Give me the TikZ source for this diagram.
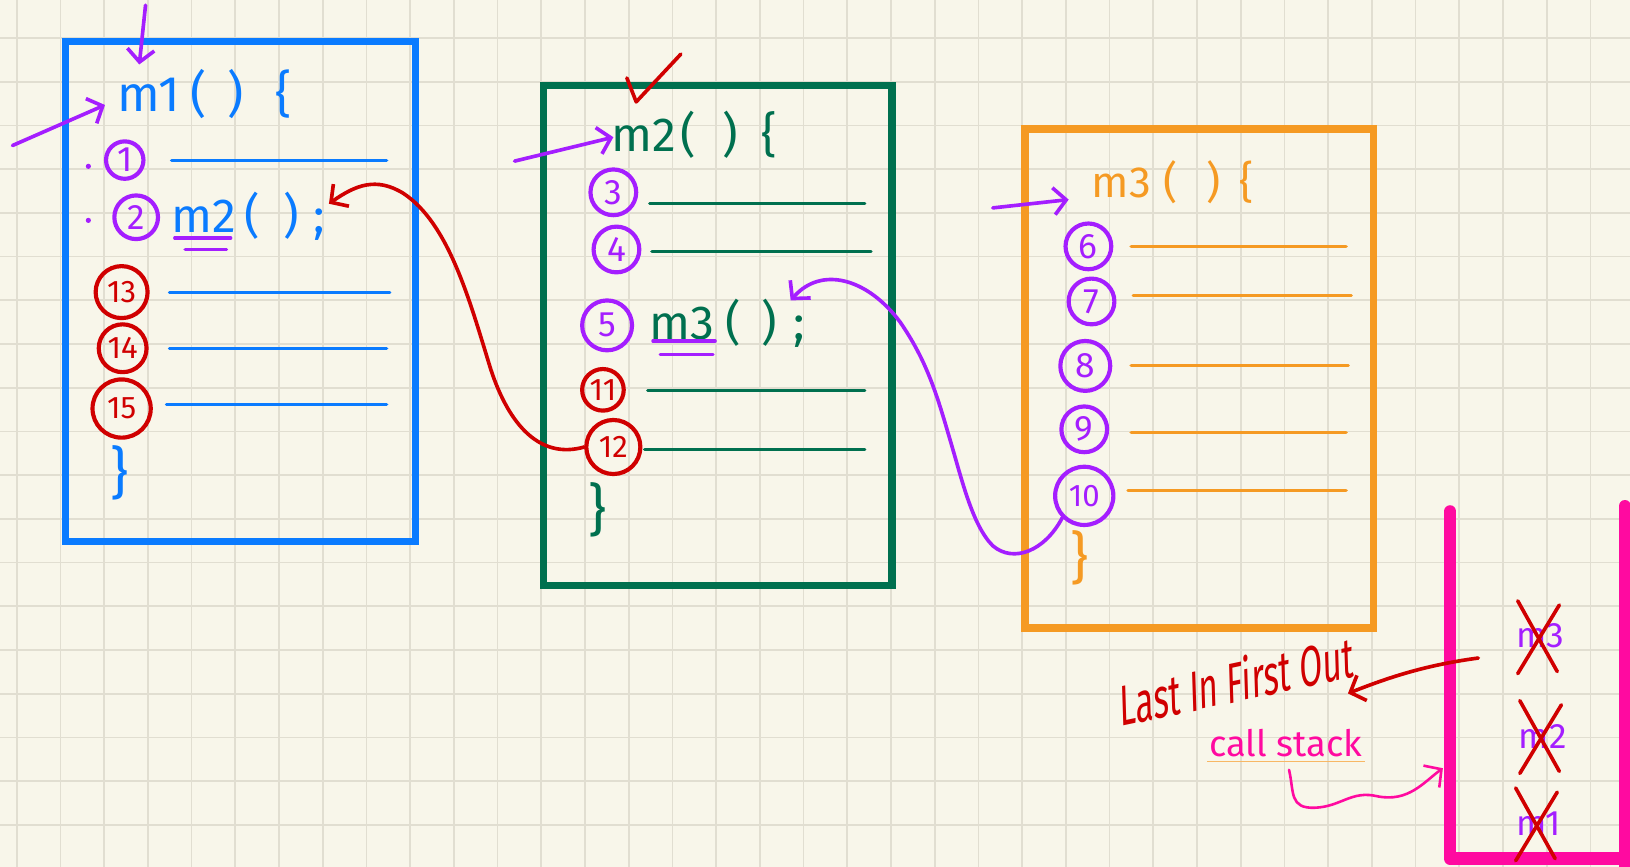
\documentclass[tikz,border=0pt]{standalone}
\usepackage{fontspec}
\setmainfont{Fira Sans}
\newfontfamily\lifofont[FakeStretch=0.6, FakeSlant=0.18]{Fira Sans}
\usetikzlibrary{arrows.meta,calc}
\definecolor{paper}{HTML}{F8F6EA}
\definecolor{gridc}{HTML}{E1DED1}
\definecolor{fnblue}{HTML}{0A7BFF}
\definecolor{fngreen}{HTML}{00704F}
\definecolor{fnorange}{HTML}{F59A23}
\definecolor{pen}{HTML}{A41EFF}
\definecolor{ink}{HTML}{D00000}
\definecolor{stackc}{HTML}{FF0AA0}
\tikzset{
  hand/.style={line width=3.5pt, line cap=round, line join=round},
  frame/.style={line width=7pt},
  barb/.style={-{Straight Barb[length=12pt,width=26pt]}},
  num/.style={circle, draw, line width=4pt, inner sep=0pt, font=\fontsize{34}{34}\selectfont},
  numwide/.style={num, font=\fontsize{30}{30}\selectfont},
  code/.style={inner sep=0pt, anchor=west, font=\fontsize{46}{46}\selectfont},
  rule/.style={line width=3pt, line cap=round},
  brace/.style={inner sep=0pt, font=\fontsize{54}{54}\selectfont},
  entry/.style={inner sep=0pt, text=pen, font=\fontsize{34}{34}\selectfont},
}
\begin{document}
\begin{tikzpicture}[x=1pt,y=-1pt]
\fill[paper] (0,0) rectangle (1568,834);
\useasboundingbox (0,0) rectangle (1568,834);
% squared paper
\foreach \i in {0,...,37} \draw[gridc, line width=1.6pt] ({16.1+42.05*\i},0) -- ({16.1+42.05*\i},834);
\foreach \j in {0,...,19} \draw[gridc, line width=1.6pt] (0,{36.6+42.05*\j}) -- (1568,{36.6+42.05*\j});

% ---------- m1 ----------
\draw[fnblue, frame] (63,40) rectangle (400,521);
\node[code, text=fnblue, font=\fontsize{48}{48}\selectfont] (m1head) at (113,90) {m1\hspace{10pt}(\hspace{20pt})\hspace{30pt}\{};
\fill[pen] (85,160) circle (2.5pt);
\fill[pen] (85,212) circle (2.5pt);
\node[num, pen, minimum size=36pt] (c1) at (120,154) {1};
\draw[fnblue, rule] (165,154) -- (372,154);
\node[num, pen, minimum size=42pt] (c2) at (131,209) {2};
\node[code, text=fnblue] (m2call) at (165,208) {m2\hspace{8pt}(\hspace{22pt})\hspace{14pt};};
\draw[pen, rule] (168,229) -- (222,229);
\draw[pen, rule] (178,240) -- (218,240);
\node[numwide, ink, minimum size=50pt] (c13) at (117,281) {13};
\draw[fnblue, rule] (163,281) -- (375,281);
\node[numwide, ink, minimum size=46pt] (c14) at (118,335) {14};
\draw[fnblue, rule] (163,335) -- (372,335);
\node[numwide, ink, minimum size=56pt] (c15) at (117,393) {15};
\draw[fnblue, rule] (160,389) -- (372,389);
\node[brace, text=fnblue] (m1end) at (115,455) {\}};

\coordinate (in1) at (12,140);
\coordinate (in1top) at (140,5);
\draw[pen, hand, barb] (in1) -- ($(m1head.west)+(-12,11)$);
\draw[pen, hand, barb] (in1top) -- ($(m1head.west)+(21,-28)$);

% ---------- m2 ----------
\draw[fngreen, frame] (523,82) rectangle (858,563);
\draw[ink, hand] (603,75) -- (612,98) -- (655,52);
\node[code, text=fngreen] (m2head) at (588,130) {m2\hspace{4pt}(\hspace{26pt})\hspace{22pt}\{};
\node[num, pen, minimum size=44pt] (c3) at (590,185) {3};
\draw[fngreen, rule] (625,196) -- (832,196);
\node[num, pen, minimum size=44pt] (c4) at (593,240) {4};
\draw[fngreen, rule] (627,242) -- (838,242);
\node[num, pen, minimum size=48pt] (c5) at (584,313) {5};
\node[code, text=fngreen] (m3call) at (625,311) {m3\hspace{10pt}(\hspace{20pt})\hspace{16pt};};
\draw[pen, rule] (628,328) -- (688,328);
\draw[pen, rule] (635,341) -- (686,341);
\node[numwide, ink, minimum size=40pt] (c11) at (580,375) {11};
\draw[fngreen, rule] (623,376) -- (832,376);
\node[numwide, ink, minimum size=52pt] (c12) at (590,430) {12};
\draw[fngreen, rule] (620,432) -- (832,432);
\node[brace, text=fngreen] (m2end) at (575,490) {\}};

\coordinate (in2) at (495,155);
\draw[pen, hand, barb] (in2) -- ($(m2head.west)+(2,2)$);

% ---------- m3 ----------
\draw[fnorange, frame] (986,124) rectangle (1321,604);
\node[code, text=fnorange, font=\fontsize{42}{42}\selectfont] (m3head) at (1050,175) {m3\hspace{12pt}(\hspace{28pt})\hspace{18pt}\{};
\node[num, pen, minimum size=44pt] (c6) at (1047,237) {6};
\draw[fnorange, rule] (1088,237) -- (1295,237);
\node[num, pen, minimum size=44pt] (c7) at (1050,290) {7};
\draw[fnorange, rule] (1090,284) -- (1300,284);
\node[num, pen, minimum size=48pt] (c8) at (1044,352) {8};
\draw[fnorange, rule] (1088,352) -- (1297,352);
\node[num, pen, minimum size=44pt] (c9) at (1043,413) {9};
\draw[fnorange, rule] (1088,416) -- (1295,416);
\node[numwide, pen, minimum size=56pt] (c10) at (1043,477) {10};
\draw[fnorange, rule] (1085,472) -- (1295,472);
\node[brace, text=fnorange] (m3end) at (1038,537) {\}};

\coordinate (in3) at (955,200);
\draw[pen, hand, barb] (in3) -- ($(m3head.west)+(-22,17)$);

% ---------- returns ----------
\draw[ink, hand, barb] (c12.west) .. controls (520,442) and (490,410) .. (472,355)
  .. controls (452,290) and (432,215) .. (388,186)
  .. controls (362,170) and (342,178) .. ($(m2call.east)+(4,-12)$);
\draw[pen, hand, barb] (c10.south west) .. controls (1005,530) and (975,542) .. (955,525)
  .. controls (935,505) and (925,460) .. (913,420)
  .. controls (900,375) and (890,345) .. (866,310)
  .. controls (835,268) and (790,255) .. ($(m3call.east)+(-14,-22)$);

% ---------- call stack ----------
\draw[stackc, line width=12pt, line cap=round, line join=round] (1395,492) -- (1395,826) -- (1580,826);
\draw[stackc, line width=12pt, line cap=round] (1563,487) -- (1563,840);
\node[entry] (s3) at (1482,612) {m3};
\node[entry] (s2) at (1484,708) {m2};
\node[entry] (s1) at (1480,792) {m1};
\foreach \s in {s3,s2,s1} {
  \draw[ink, hand] ($(\s)+(-22,-34)$) -- ($(\s)+(16,34)$);
  \draw[ink, hand] ($(\s)+(18,-30)$) -- ($(\s)+(-22,36)$);
}
\node[ink, rotate=12, inner sep=0pt, font=\fontsize{54}{54}\lifofont] (lifo) at (1186,655) {Last In First Out};
\coordinate (lifoStart) at (1422,633);
\draw[ink, hand, barb] (lifoStart) .. controls (1370,640) and (1335,652) .. ($(lifo.east)+(-2,36)$);

\node[inner sep=0pt, text=stackc, font=\fontsize{35}{35}\selectfont] (cs) at (1237,715) {call stack};
\draw[fnorange!70, line width=1.5pt] ($(cs.south west)+(-2,4)$) -- ($(cs.south east)+(2,4)$);
\coordinate (stackL) at (1388,739);
\draw[stackc, line width=2.5pt, line cap=round, barb] ($(cs.south)+(3,12)$) .. controls (1245,762) and (1240,778) .. (1265,777)
  .. controls (1290,776) and (1300,760) .. (1325,766)
  .. controls (1355,772) and (1370,752) .. (stackL);
\end{tikzpicture}
\end{document}
